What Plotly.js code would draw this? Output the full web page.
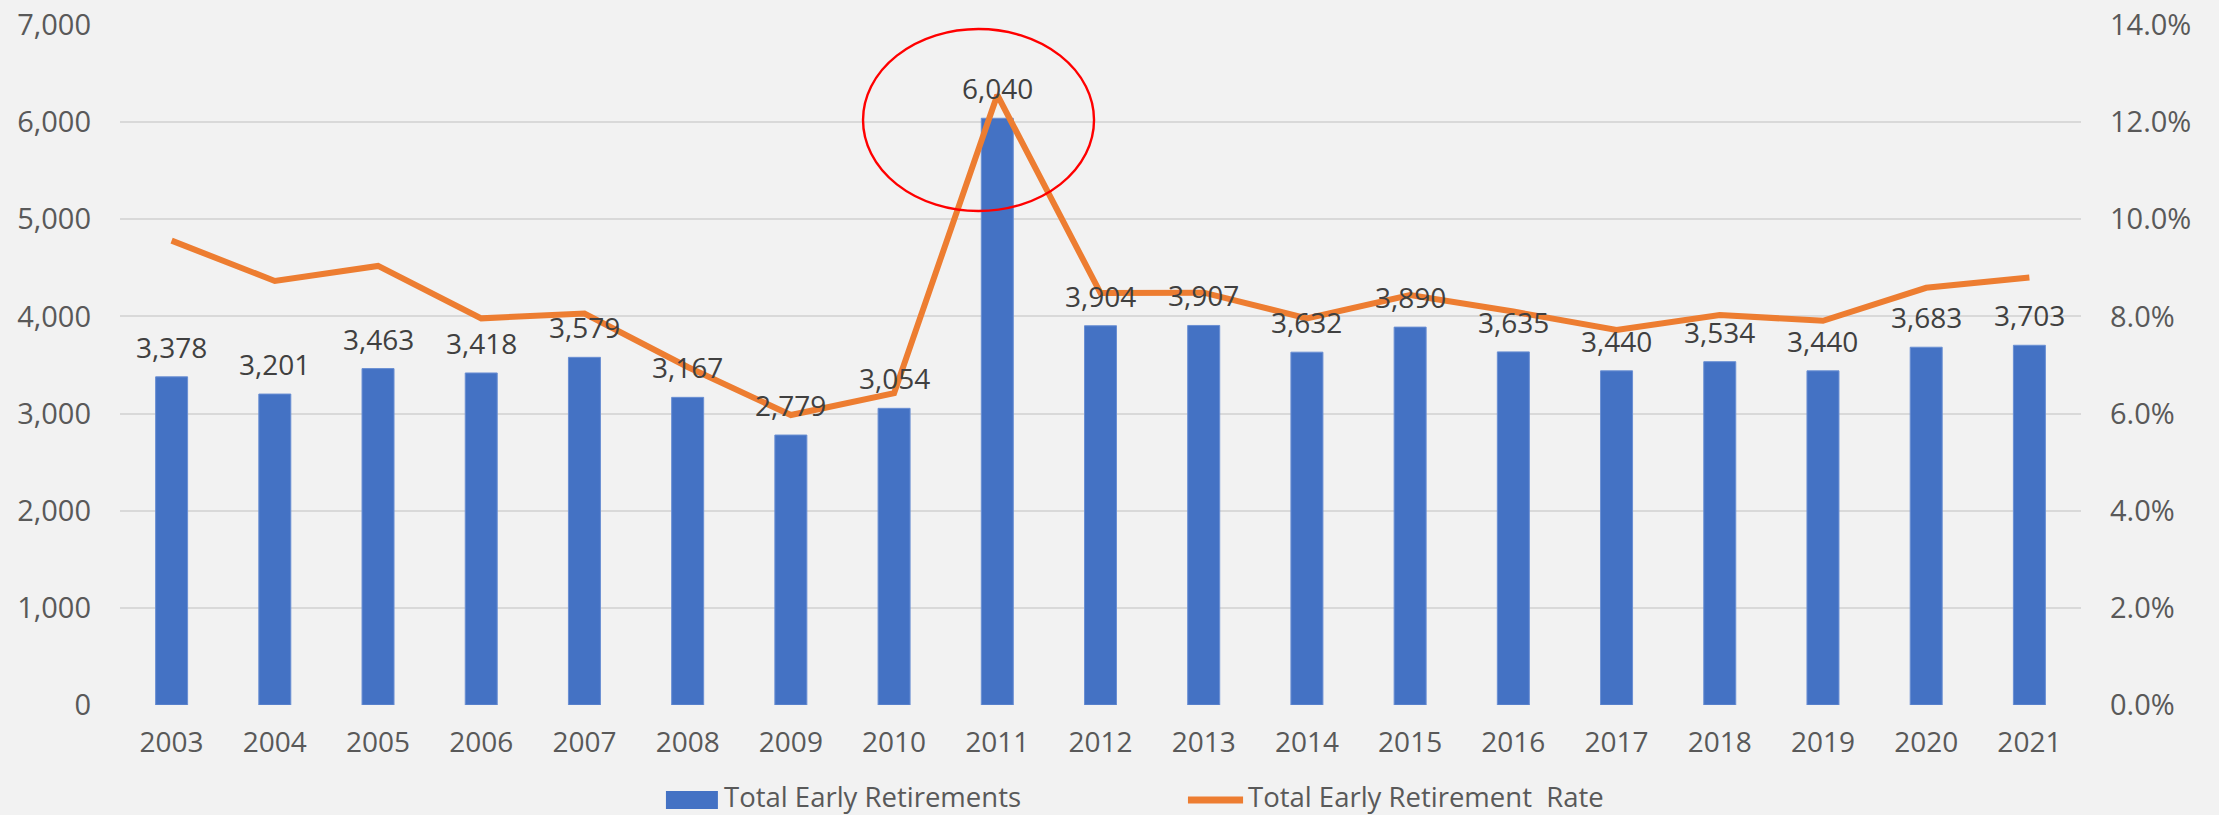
<!DOCTYPE html>
<html>
<head>
<meta charset="utf-8">
<script src="https://cdn.plot.ly/plotly-3.0.1.min.js"></script>
<style>
  html, body { margin: 0; padding: 0; background: #F2F2F2; }
  #chart { width: 2219px; height: 815px; }
</style>
</head>
<body>
<div id="chart"></div>
<script>
// ---- Data ----
const years = ['2003','2004','2005','2006','2007','2008','2009','2010','2011','2012','2013','2014','2015','2016','2017','2018','2019','2020','2021'];
const earlyRetirements = [3378, 3201, 3463, 3418, 3579, 3167, 2779, 3054, 6040, 3904, 3907, 3632, 3890, 3635, 3440, 3534, 3440, 3683, 3703];
const earlyRetirementRate = [0.0956, 0.0873, 0.0904, 0.0796, 0.0806, 0.0696, 0.0597, 0.0642, 0.1256, 0.0848, 0.0849, 0.0796, 0.0844, 0.0810, 0.0772, 0.0803, 0.0791, 0.0859, 0.0880];
const seriesNames = ['Total Early Retirements', 'Total Early Retirement  Rate'];

// ---- Styles ----
const BLUE = '#4472C4';
const ORANGE = '#ED7D31';
const FONT = '"Open Sans", "Noto Sans", sans-serif';
const TICKCOLOR = '#595959';
const LABELCOLOR = '#404040';

const barTrace = {
  type: 'bar',
  name: seriesNames[0],
  x: years,
  y: earlyRetirements,
  marker: { color: BLUE, line: { color: '#6A8FD3', width: 1 } },
  yaxis: 'y',
  showlegend: false,
  hoverinfo: 'x+y'
};

const lineTrace = {
  type: 'scatter',
  mode: 'lines',
  name: seriesNames[1],
  x: years,
  y: earlyRetirementRate,
  line: { color: ORANGE, width: 6 },
  yaxis: 'y2',
  showlegend: false
};

// data labels from the bar values (category axis -> category index)
const dataLabels = years.map((yr, i) => ({
  x: i,
  y: earlyRetirements[i],
  xref: 'x',
  yref: 'y',
  text: earlyRetirements[i].toLocaleString('en-US'),
  showarrow: false,
  yanchor: 'bottom',
  yshift: 9,
  font: { family: FONT, size: 28, color: LABELCOLOR }
}));

// custom legend (matching the reference's glyph shapes)
const legendTexts = [
  { x: 0.3075, text: seriesNames[0] },
  { x: 0.5747, text: seriesNames[1].replace('  ', ' &nbsp;') }
].map(o => ({
  x: o.x, y: -0.135, xref: 'paper', yref: 'paper',
  xanchor: 'left', yanchor: 'middle', showarrow: false,
  borderpad: 0,
  text: o.text,
  font: { family: FONT, size: 27.5, color: TICKCOLOR }
}));

const shapes = [
  // red highlight ellipse
  { type: 'circle', xref: 'paper', yref: 'paper',
    x0: 0.3789, x1: 0.4967, y0: 0.7265, y1: 0.9941,
    line: { color: '#FF0000', width: 2.4 }, fillcolor: 'rgba(0,0,0,0)' },
  // legend glyphs
  { type: 'rect', xref: 'paper', yref: 'paper',
    x0: 0.2784, x1: 0.3049, y0: -0.1529, y1: -0.1265,
    fillcolor: BLUE, line: { width: 0 } },
  { type: 'line', xref: 'paper', yref: 'paper',
    x0: 0.5446, x1: 0.5727, y0: -0.1397, y1: -0.1397,
    line: { color: ORANGE, width: 7 } }
];

const layout = {
  width: 2219,
  height: 815,
  paper_bgcolor: '#F2F2F2',
  plot_bgcolor: '#F2F2F2',
  margin: { l: 120, r: 138, t: 25, b: 110, pad: 0 },
  font: { family: FONT, size: 28, color: TICKCOLOR },
  bargap: 0.69,
  showlegend: false,
  xaxis: {
    type: 'category',
    range: [-0.5, years.length - 0.5],
    showgrid: false,
    showline: false,
    zeroline: false,
    ticks: '',
    ticklabelstandoff: 18,
    tickfont: { family: FONT, size: 28, color: TICKCOLOR }
  },
  yaxis: {
    range: [0, 7000],
    dtick: 1000,
    tickformat: ',',
    showgrid: true,
    gridcolor: '#D9D9D9',
    gridwidth: 1.5,
    zeroline: false,
    showline: false,
    ticks: '',
    ticklabelstandoff: 28,
    tickfont: { family: FONT, size: 29, color: TICKCOLOR }
  },
  yaxis2: {
    range: [0, 0.14],
    dtick: 0.02,
    tickformat: '.1%',
    overlaying: 'y',
    side: 'right',
    showgrid: false,
    zeroline: false,
    showline: false,
    ticks: '',
    ticklabelstandoff: 28,
    tickfont: { family: FONT, size: 29, color: TICKCOLOR }
  },
  shapes: shapes,
  annotations: dataLabels.concat(legendTexts)
};

Plotly.newPlot('chart', [barTrace, lineTrace], layout, { displayModeBar: false, responsive: false });
</script>
</body>
</html>
